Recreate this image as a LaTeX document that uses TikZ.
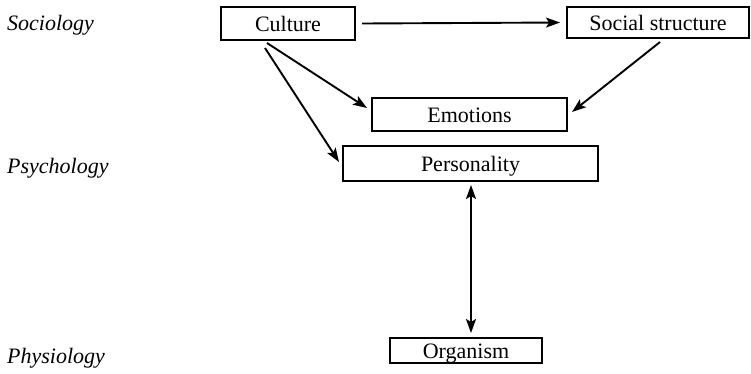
\documentclass[tikz,border=0pt]{standalone}
\usepackage{fontspec}
\setmainfont{Liberation Serif}
\usetikzlibrary{arrows.meta}
\begin{document}
\begin{tikzpicture}[x=1pt,y=-1pt,
  box/.style={draw,line width=2pt,inner sep=0pt,text height=15pt,text depth=0pt,font=\fontsize{22}{24}\selectfont},
  lab/.style={anchor=west,inner sep=0pt,font=\fontsize{22}{24}\selectfont\itshape},
  tip/.style={Stealth[length=14pt,width=10pt,inset=3pt]},
  arr/.style={line width=1.9pt,-{Stealth[length=14pt,width=10pt,inset=3pt]}},
  darr/.style={line width=1.9pt,{Stealth[length=14pt,width=10pt,inset=3pt]}-{Stealth[length=14pt,width=10pt,inset=3pt]}}]
\useasboundingbox (0,0) rectangle (751,373);
\node[lab] (soc) at (7,25) {Sociology};
\node[lab] (psy) at (7,168) {Psychology};
\node[lab] (phy) at (7,358) {Physiology};
\node[box,minimum width=134pt,minimum height=33pt] (cul) at (288,23.5) {Culture};
\node[box,minimum width=182pt,minimum height=31pt] (ss) at (658,22.5) {Social structure};
\node[box,minimum width=195pt,minimum height=33pt] (emo) at (469.5,114.5) {Emotions};
\node[box,minimum width=255pt,minimum height=35pt] (per) at (470.5,163.5) {Personality};
\node[box,minimum width=152pt,minimum height=25pt] (org) at (466,350.5) {Organism};
\coordinate (c1) at (267,43);
\coordinate (c2) at (265,48);
\coordinate (s1) at (660,42);
\coordinate (e1) at (367,108);
\coordinate (p1) at (339,162);
\coordinate (e2) at (572,112);
\coordinate (pb) at (471,185);
\coordinate (ot) at (471,333);
\draw[arr] ([xshift=6pt]cul.east) -- ([xshift=-6pt]ss.west);
\draw[arr] (c1) -- (e1);
\draw[arr] (c2) -- (p1);
\draw[arr] (s1) -- (e2);
\draw[darr] (pb) -- (ot);
\end{tikzpicture}
\end{document}
